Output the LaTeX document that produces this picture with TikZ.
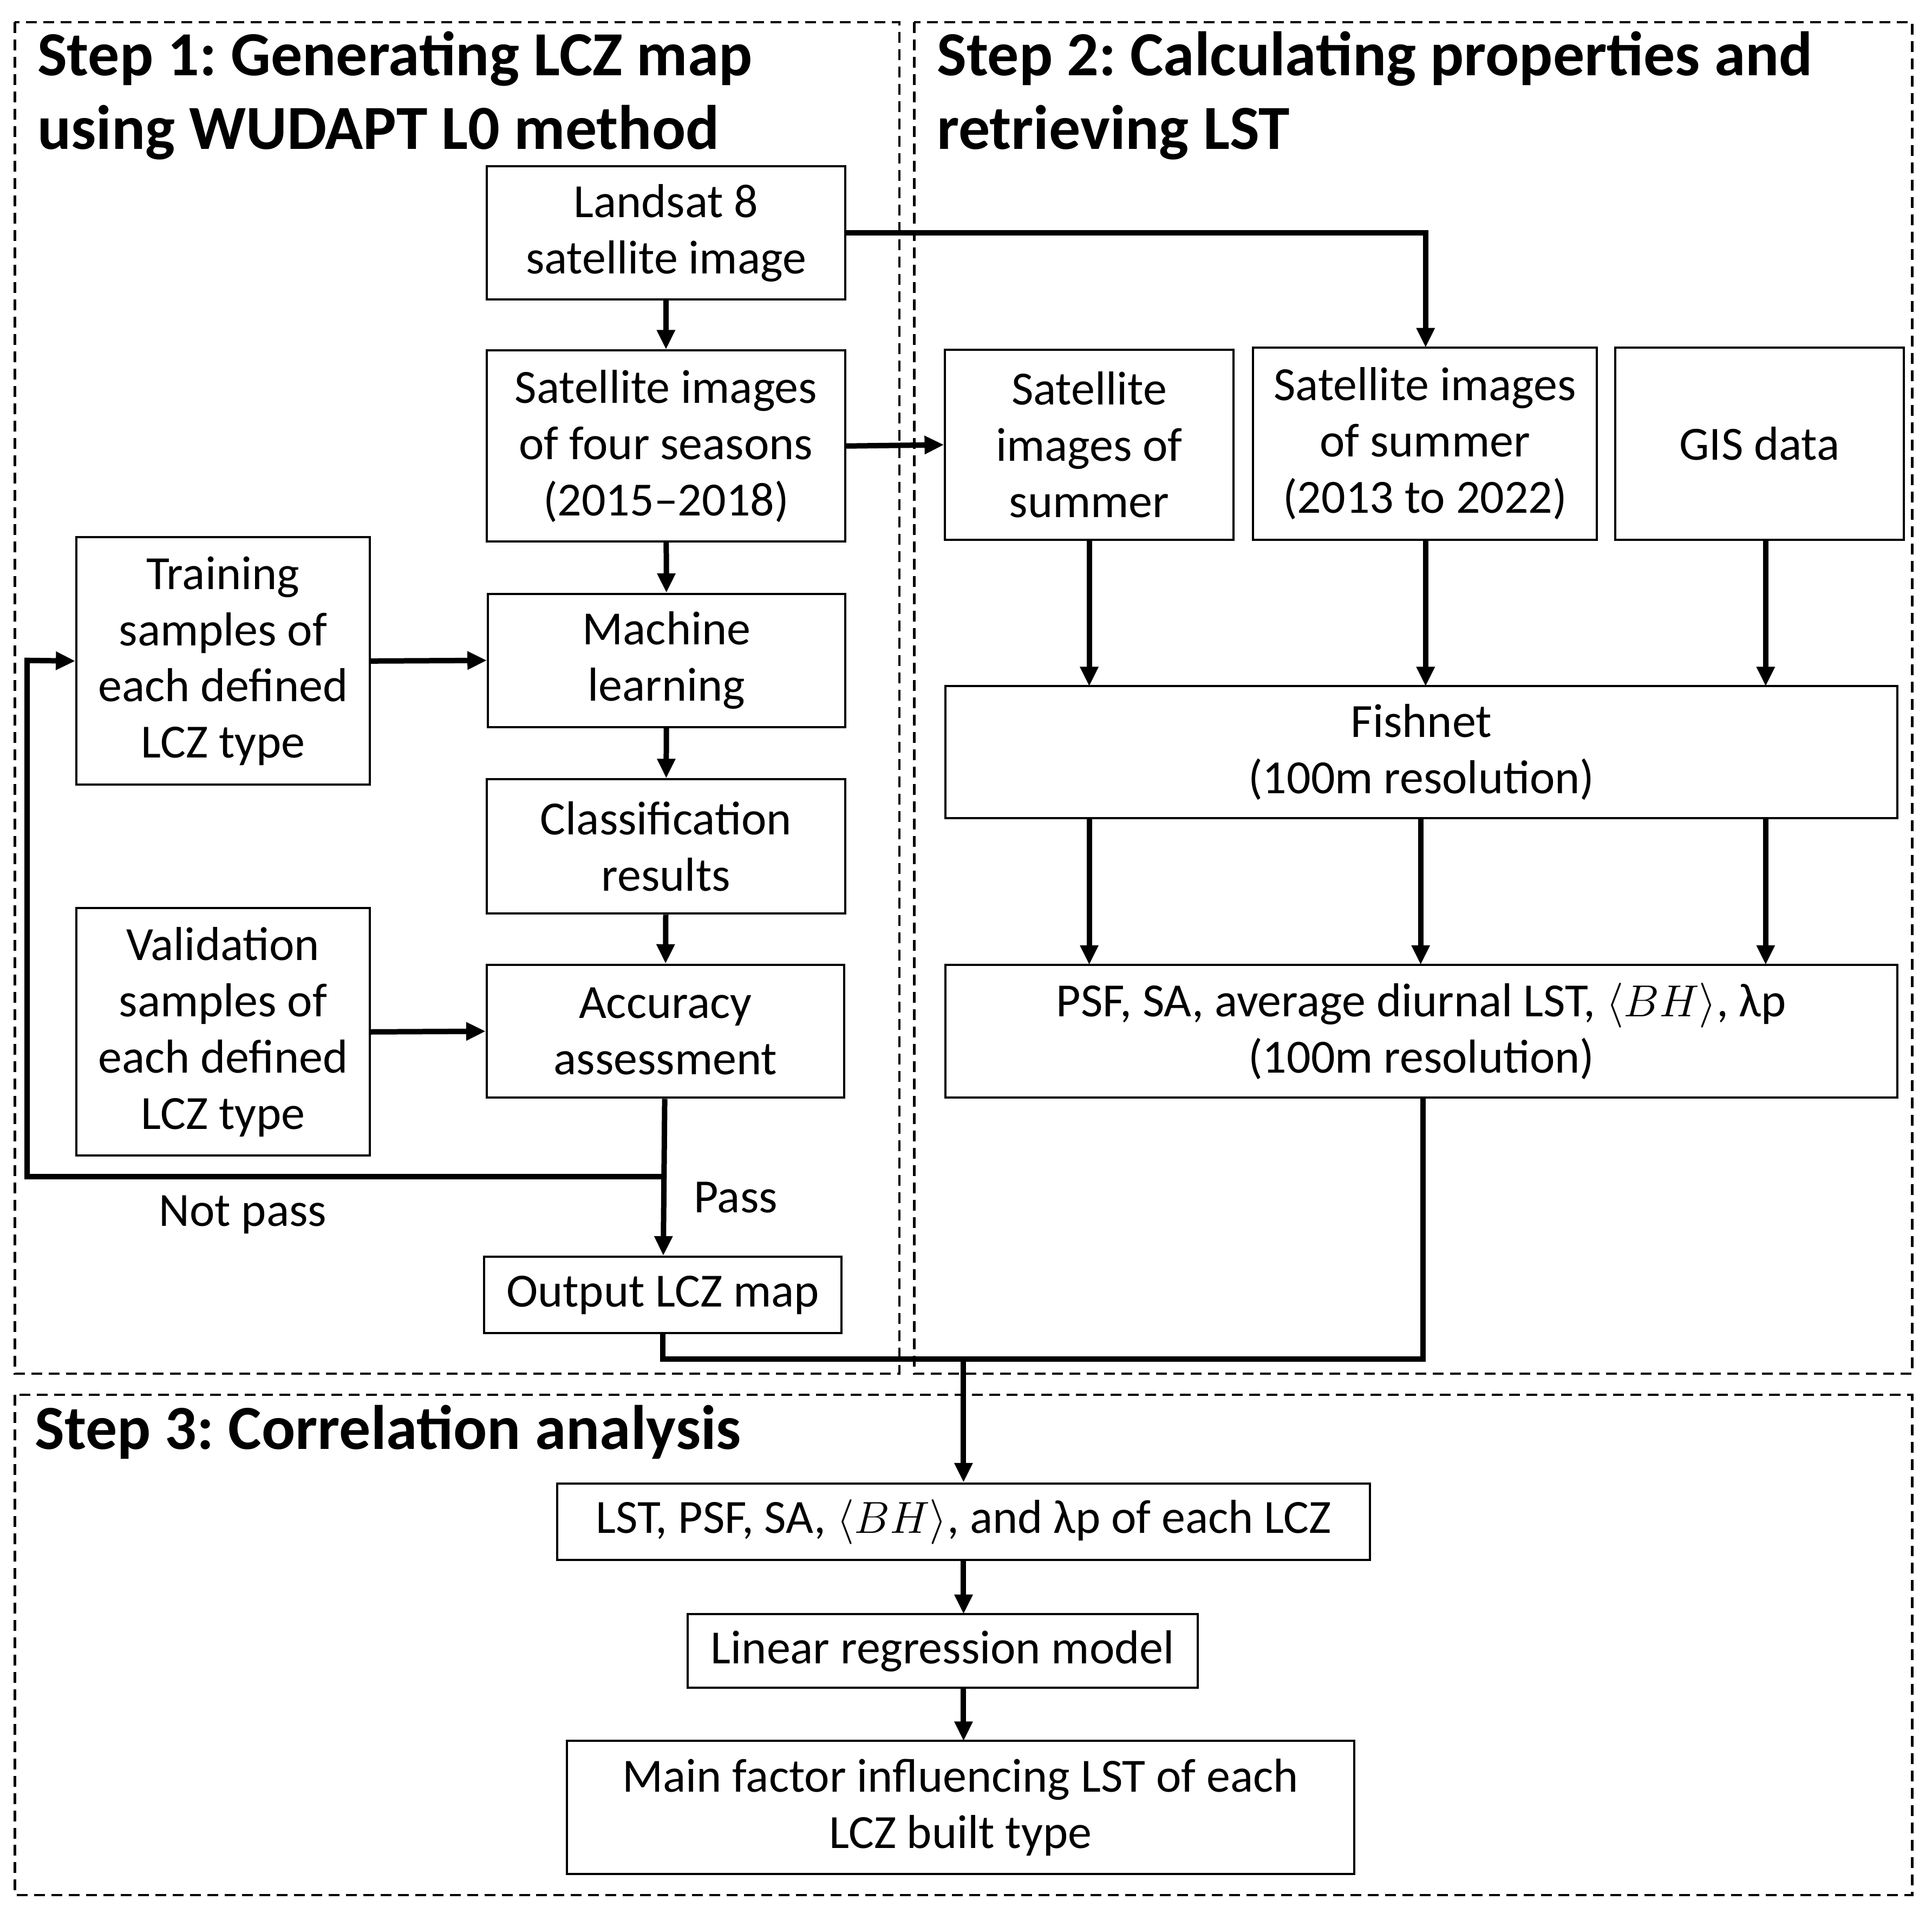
\documentclass[tikz,border=0pt]{standalone}
\usepackage{fontspec}
\setmainfont{Carlito}
\usetikzlibrary{arrows.meta}
\begin{document}
\frenchspacing
\begin{tikzpicture}[x=0.02cm,y=-0.02cm,
  box/.style={draw,line width=1pt,align=center,font=\fontsize{22}{26}\selectfont,inner sep=0pt},
  arr/.style={line width=2.5pt,-{Triangle[length=9pt,width=8pt]}},
  ln/.style={line width=2.5pt},
  frame/.style={draw,dash pattern=on 5pt off 3pt,line width=1.1pt},
  title/.style={font=\fontsize{29}{34}\selectfont\bfseries,align=left,anchor=north west,inner sep=0pt},
  lab/.style={font=\fontsize{22}{26}\selectfont,inner sep=0pt}]
\useasboundingbox (0,0) rectangle (1568,1558);
\draw[frame] (12,18) rectangle (730,1115);
\draw[frame] (742,18) rectangle (1552,1115);
\draw[frame] (12,1132) rectangle (1552,1538);
\node[title] (t1) at (30,25) {Step 1: Generating LCZ map\\using WUDAPT L0 method};
\node[title] (t2) at (760,25) {Step 2: Calculating properties and\\retrieving LST};
\node[title] (t3) at (28,1140) {Step 3: Correlation analysis};
\node[box,minimum width=5.82cm,minimum height=2.16cm] (landsat) at (540.5,189) {Landsat 8\\satellite image};
\node[box,minimum width=5.82cm,minimum height=3.1cm] (seas) at (540.5,362) {Satellite images\\of four seasons\\(2015--2018)};
\node[box,minimum width=5.8cm,minimum height=2.16cm] (ml) at (541,536) {Machine\\learning};
\node[box,minimum width=5.82cm,minimum height=2.18cm] (cls) at (540.5,687) {Classification\\results};
\node[box,minimum width=5.8cm,minimum height=2.16cm] (acc) at (540,837) {Accuracy\\assessment};
\node[box,minimum width=5.8cm,minimum height=1.24cm] (out) at (538,1051) {Output LCZ map};
\node[box,minimum width=4.76cm,minimum height=4.02cm] (tr) at (181,536.5) {Training\\samples of\\each defined\\LCZ type};
\node[box,minimum width=4.76cm,minimum height=4.02cm] (va) at (181,837.5) {Validation\\samples of\\each defined\\LCZ type};
\node[box,minimum width=4.68cm,minimum height=3.08cm] (ss) at (884,361) {Satellite\\images of\\summer};
\node[box,minimum width=5.58cm,minimum height=3.12cm] (ss2) at (1156.5,360) {Satellite images\\of summer\\(2013 to 2022)};
\node[box,minimum width=4.68cm,minimum height=3.12cm] (gis) at (1428,360) {GIS data};
\node[box,minimum width=15.46cm,minimum height=2.14cm] (fish) at (1153.5,610.5) {Fishnet\\(100m resolution)};
\node[box,minimum width=15.46cm,minimum height=2.16cm] (psf) at (1153.5,837) {PSF, SA, average diurnal LST, $\langle BH\rangle$, λp\\(100m resolution)};
\node[box,minimum width=13.2cm,minimum height=1.24cm] (lst) at (782,1235) {LST, PSF, SA, $\langle BH\rangle$, and λp of each LCZ};
\node[box,minimum width=8.28cm,minimum height=1.2cm] (lin) at (765,1340) {Linear regression model};
\node[box,minimum width=12.78cm,minimum height=2.16cm] (mainf) at (779.5,1467) {Main factor influencing LST of each\\LCZ built type};
\node[lab] (np) at (197,986) {Not pass};
\node[lab] (ps) at (597,972) {Pass};
\coordinate (j1) at (1157,189);
\coordinate (j2) at (540,955);
\coordinate (j3) at (22,955);
\coordinate (j4) at (22,536);
\coordinate (m1) at (538,1103);
\coordinate (m2) at (1155,1103);
\coordinate (m3) at (782,1103);
\draw[arr] (landsat.east) -- (j1) -- (1157,282);
\draw[arr] (landsat) -- (seas);
\draw[arr] (seas.east) -- (ss.west);
\draw[arr] (seas) -- (ml);
\draw[arr] (ml) -- (cls);
\draw[arr] (cls) -- (acc);
\draw[arr] (acc) -- (out);
\draw[arr] (tr.east) -- (ml.west);
\draw[arr] (va.east) -- (acc.west);
\draw[arr] (j2) -- (j3) -- (j4) -- (tr.west);
\foreach \x in {884,1157,1433}{\draw[arr] (\x,438) -- (\x,557);}
\foreach \x in {884,1153,1433}{\draw[arr] (\x,664) -- (\x,783);}
\draw[ln] (out.south) -- (m1) -- (m3);
\draw[arr] (1155,891) -- (m2) -- (m3) -- (lst.north);
\draw[arr] (lst) -- (782,1310);
\draw[arr] (782,1370) -- (782,1413);
\end{tikzpicture}
\end{document}
